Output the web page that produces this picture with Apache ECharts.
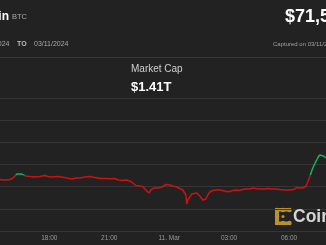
<!DOCTYPE html>
<html>
<head>
<meta charset="utf-8">
<script src="https://cdn.jsdelivr.net/npm/echarts@6/dist/echarts.min.js"></script>
<style>
html,body{margin:0;padding:0;background:#222222;}
#c{width:326px;height:245px;}
</style>
</head>
<body>
<div id="c"></div>
<script>
// Time stamps (MM-DD HH:MM, 2024)
var times = [
'03-10 15:32','03-10 15:41','03-10 15:50','03-10 16:02','03-10 16:11','03-10 16:17','03-10 16:23','03-10 16:29','03-10 16:35','03-10 16:41',
'03-10 16:50','03-10 17:02','03-10 17:17','03-10 17:32','03-10 17:47','03-10 17:56','03-10 18:08','03-10 18:23','03-10 18:38','03-10 18:53',
'03-10 19:08','03-10 19:20','03-10 19:32','03-10 19:47','03-10 20:02','03-10 20:17','03-10 20:32','03-10 20:47','03-10 21:02','03-10 21:17',
'03-10 21:26','03-10 21:38','03-10 21:50','03-10 22:02','03-10 22:11','03-10 22:20','03-10 22:32','03-10 22:41','03-10 22:47','03-10 22:53',
'03-10 22:59','03-10 23:05','03-10 23:14','03-10 23:26','03-10 23:38','03-10 23:50','03-11 00:02','03-11 00:11','03-11 00:23','03-11 00:32',
'03-11 00:41','03-11 00:47','03-11 00:50','03-11 00:53','03-11 00:56','03-11 01:02','03-11 01:08','03-11 01:14','03-11 01:23','03-11 01:32',
'03-11 01:41','03-11 01:50','03-11 01:56','03-11 02:02','03-11 02:11','03-11 02:20','03-11 02:32','03-11 02:41','03-11 02:50','03-11 03:02',
'03-11 03:11','03-11 03:20','03-11 03:32','03-11 03:41','03-11 03:50','03-11 04:02','03-11 04:11','03-11 04:20','03-11 04:32','03-11 04:47',
'03-11 04:56','03-11 05:08','03-11 05:20','03-11 05:32','03-11 05:47','03-11 06:02','03-11 06:14','03-11 06:23','03-11 06:32','03-11 06:41',
'03-11 06:50','03-11 06:56','03-11 07:02','03-11 07:08','03-11 07:14','03-11 07:20','03-11 07:26','03-11 07:32','03-11 07:38','03-11 07:44',
'03-11 07:50'
];
// BTC price (USD)
var prices = [
70323,70301,70301,70323,70391,70481,70571,70603,70571,70526,
70481,70458,70436,70458,70504,70458,70436,70458,70436,70391,
70346,70391,70391,70436,70458,70413,70368,70368,70359,70368,
70301,70278,70301,70256,70165,70053,70030,70007,69895,69985,
69714,69850,69940,69940,69985,70098,70075,70030,69985,69917,
69850,69804,69624,69218,69398,69534,69669,69714,69714,69579,
69398,69444,69624,69759,69827,69850,69850,69827,69782,69782,
69827,69850,69827,69872,69895,69895,69940,69917,69895,69895,
69917,69895,69895,69872,69850,69850,69872,69962,69940,69940,
70007,70210,70436,70707,70932,71113,71293,71428,71473,71383,
71293
];
var referencePrice = 70530;          // above = green, below = red
var tickHours = [18, 21, 24, 27, 30];
var tickLabels = ['18:00', '21:00', '11. Mar', '03:00', '06:00'];

var GREEN = '#1bb05a', RED = '#cc1111';

function toHours(s) {
  var day = parseInt(s.substr(3, 2), 10);
  var h = parseInt(s.substr(6, 2), 10);
  var m = parseInt(s.substr(9, 2), 10);
  return (day - 10) * 24 + h + m / 60;
}
var seriesData = times.map(function (t, i) { return [toHours(t), prices[i]]; });

var chart = echarts.init(document.getElementById('c'), null, {renderer: 'canvas'});
var FONT = '"Liberation Sans", Arial, sans-serif';
var gold = '#b8922c';

function dot(x, y, r) { return {type: 'circle', shape: {cx: x, cy: y, r: r}, style: {fill: gold}, silent: true}; }
function bar(x, y, w, h) { return {type: 'rect', shape: {x: x, y: y, width: w, height: h}, style: {fill: gold}, silent: true}; }

chart.setOption({
  backgroundColor: '#222222',
  animation: false,
  grid: {left: 0, right: 0, top: 98, bottom: 14, containLabel: false},
  xAxis: {
    type: 'value',
    min: 15.533,
    max: 31.85,
    axisLine: {show: false},
    axisTick: {show: false},
    splitLine: {show: false},
    axisLabel: {
      customValues: tickHours,
      color: '#9a9a9a',
      fontSize: 6.5,
      fontFamily: FONT,
      margin: 4,
      formatter: function (v) {
        var i = tickHours.indexOf(v);
        return i >= 0 ? tickLabels[i] : '';
      }
    }
  },
  yAxis: {
    type: 'value',
    min: 68000,
    max: 74000,
    interval: 1000,
    axisLine: {show: false},
    axisTick: {show: false},
    axisLabel: {show: false},
    splitLine: {lineStyle: {color: '#363636', width: 1}}
  },
  series: [{
    type: 'line',
    data: seriesData,
    showSymbol: false,
    lineStyle: {width: 1.5, color: RED},
    z: 5
  }],
  graphic: [
    {type: 'rect', shape: {x: 0, y: 57, width: 326, height: 1}, style: {fill: '#383838'}, silent: true},
    {type: 'text', x: 9, y: 16.5, style: {text: 'Bitcoin', fill: '#ffffff', font: 'bold 12px ' + FONT, textAlign: 'right', textVerticalAlign: 'middle'}},
    {type: 'text', x: 12, y: 17, style: {text: 'BTC', fill: '#a8a8a8', font: '7.5px ' + FONT, textAlign: 'left', textVerticalAlign: 'middle'}},
    {type: 'text', x: 9.5, y: 44.5, style: {text: '03/10/2024', fill: '#a8a8a8', font: '7px ' + FONT, textAlign: 'right', textVerticalAlign: 'middle'}},
    {type: 'text', x: 17, y: 44.5, style: {text: 'TO', fill: '#bbbbbb', font: 'bold 7px ' + FONT, textAlign: 'left', textVerticalAlign: 'middle'}},
    {type: 'text', x: 34, y: 44.5, style: {text: '03/11/2024', fill: '#a8a8a8', font: '7px ' + FONT, textAlign: 'left', textVerticalAlign: 'middle'}},
    {type: 'text', x: 285, y: 17, style: {text: '$71,550', fill: '#ffffff', font: 'bold 18px ' + FONT, textAlign: 'left', textVerticalAlign: 'middle'}},
    {type: 'text', x: 273, y: 44.5, style: {text: 'Captured on 03/11/2024', fill: '#a0a0a0', font: '6px ' + FONT, textAlign: 'left', textVerticalAlign: 'middle'}},
    {type: 'text', x: 131, y: 69.5, style: {text: 'Market Cap', fill: '#cfcfcf', font: '10px ' + FONT, textAlign: 'left', textVerticalAlign: 'middle'}},
    {type: 'text', x: 131, y: 87, style: {text: '$1.41T', fill: '#ffffff', font: 'bold 13px ' + FONT, textAlign: 'left', textVerticalAlign: 'middle'}},
    {type: 'group', z: 10, children: [
      bar(275, 208, 4, 17),
      bar(275, 208, 16, 3.5),
      bar(275, 221.5, 16, 3.5),
      dot(277, 210, 2.2), dot(283, 210, 2.2), dot(289.5, 210, 2.2),
      dot(277, 216.5, 2.2), dot(283, 216.5, 1.6),
      dot(277, 223, 2.2), dot(283, 223, 2.2), dot(289.5, 223, 2.2)
    ]},
    {type: 'text', x: 293, y: 217.5, z: 10, style: {text: 'CoinDesk', fill: '#d4d4d4', font: 'bold 17.5px ' + FONT, textAlign: 'left', textVerticalAlign: 'middle'}}
  ]
});

// Colour the line green above / red below the reference price, using the y-axis scale.
var refY = chart.convertToPixel({gridIndex: 0}, [seriesData[0][0], referencePrice])[1];
var H = 245;
var t = Math.max(0, Math.min(1, refY / H));
chart.setOption({
  series: [{
    lineStyle: {
      color: new echarts.graphic.LinearGradient(0, 0, 0, H, [
        {offset: 0, color: GREEN},
        {offset: t, color: GREEN},
        {offset: t, color: RED},
        {offset: 1, color: RED}
      ], true)
    }
  }]
});
</script>
</body>
</html>
